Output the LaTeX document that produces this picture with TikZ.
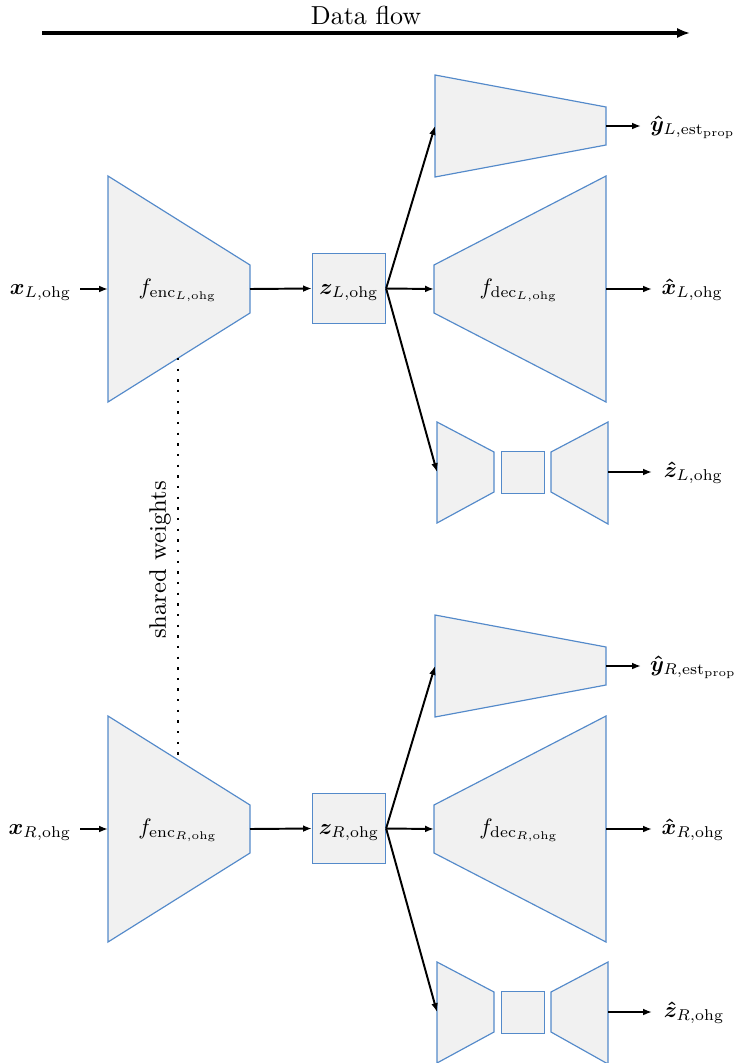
\documentclass[tikz,border=0pt]{standalone}
\usepackage{amsmath,bm}
\usetikzlibrary{arrows.meta}
\definecolor{netfill}{RGB}{241,241,241}
\definecolor{netedge}{RGB}{84,138,202}
% math labels are set a little smaller than the running text
\newcommand{\netlbl}[1]{\scalebox{0.86}{$#1$}}
\begin{document}
\begin{tikzpicture}[x=0.3846pt,y=-0.3846pt,
  block/.style={draw=netedge,fill=netfill,line width=0.45pt},
  flow/.style={-{Latex[length=3.4pt,width=2.6pt]},line width=0.75pt},
  bigflow/.style={-{Latex[length=5pt,width=4pt]},line width=1.2pt},
  shared/.style={line width=0.9pt,dash pattern=on 0.9pt off 3.2pt},
]
\useasboundingbox (0,0) rectangle (734,1063);

% data flow direction
\node[anchor=base] (flowtxt) at (366,24) {Data flow};
\coordinate (flowstart) at (42,33);
\coordinate (flowend) at (690,33);
\draw[bigflow] (flowstart) -- (flowend);

\foreach \s/\d in {L/0,R/540}{
  % encoder
  \draw[block] (108,176+\d) -- (250,265+\d) -- (250,313+\d) -- (108,402+\d) -- cycle;
  \coordinate (encin\s) at (108,289+\d);
  \coordinate (encout\s) at (250,289+\d);
  \node[anchor=base] (encname\s) at (178,294+\d) {\netlbl{f_{\mathrm{enc}_{\s,\mathrm{ohg}}}}};
  \node[anchor=base east,inner sep=0pt,inner xsep=3.2pt] (x\s) at (80,294+\d) {\netlbl{\bm{x}_{\s,\mathrm{ohg}}}};
  \draw[flow] (x\s.east |- encin\s) -- (encin\s);

  % latent code
  \node[block,minimum width=28.1pt,minimum height=26.9pt,inner sep=0pt] (z\s) at (349,288.5+\d) {};
  \node[anchor=base] (zname\s) at (349,294+\d) {\netlbl{\bm{z}_{\s,\mathrm{ohg}}}};
  \draw[flow] (encout\s) -- (z\s.west);

  % property head
  \draw[block] (435,75+\d) -- (606,107+\d) -- (606,145+\d) -- (435,177+\d) -- cycle;
  \coordinate (headin\s) at (435,126+\d);
  \coordinate (headout\s) at (606,126+\d);
  \node[anchor=base west,inner sep=0pt,inner xsep=3.3pt] (y\s) at (641,131+\d) {\netlbl{\bm{\hat{y}}_{\s,\mathrm{est}_{\mathrm{prop}}}}};
  \draw[flow] (headout\s) -- (y\s.west |- headout\s);

  % decoder
  \draw[block] (434,265+\d) -- (606,176+\d) -- (606,402+\d) -- (434,313+\d) -- cycle;
  \coordinate (decin\s) at (434,289+\d);
  \coordinate (decout\s) at (606,289+\d);
  \node[anchor=base] (decname\s) at (519,294+\d) {\netlbl{f_{\mathrm{dec}_{\s,\mathrm{ohg}}}}};
  \node[anchor=base west,inner sep=0pt,inner xsep=3.5pt] (xh\s) at (652,294+\d) {\netlbl{\bm{\hat{x}}_{\s,\mathrm{ohg}}}};
  \draw[flow] (decout\s) -- (xh\s.west |- decout\s);

  % latent autoencoder
  \draw[block] (437,422+\d) -- (494,452+\d) -- (494,492+\d) -- (437,523+\d) -- cycle;
  \draw[block] (501.5,451.5+\d) rectangle (544.5,493.5+\d);
  \draw[block] (551,452+\d) -- (608,422+\d) -- (608,524+\d) -- (551,492+\d) -- cycle;
  \coordinate (aein\s) at (437,472+\d);
  \coordinate (aeout\s) at (608,472+\d);
  \node[anchor=base west,inner sep=0pt,inner xsep=4.4pt] (zh\s) at (652,477+\d) {\netlbl{\bm{\hat{z}}_{\s,\mathrm{ohg}}}};
  \draw[flow] (aeout\s) -- (zh\s.west |- aeout\s);

  % branches out of the latent code
  \draw[flow] (z\s.east) -- (headin\s);
  \draw[flow] (z\s.east) -- (decin\s);
  \draw[flow] (z\s.east) -- (aein\s);
}

% weight sharing between the two encoders
\coordinate (swtop) at (178,358);
\coordinate (swbot) at (178,760);
\draw[shared] (swtop) -- (swbot);
\node[rotate=90,font=\fontsize{9.2}{11}\selectfont] (swtxt) at (160,560) {shared weights};
\end{tikzpicture}
\end{document}
